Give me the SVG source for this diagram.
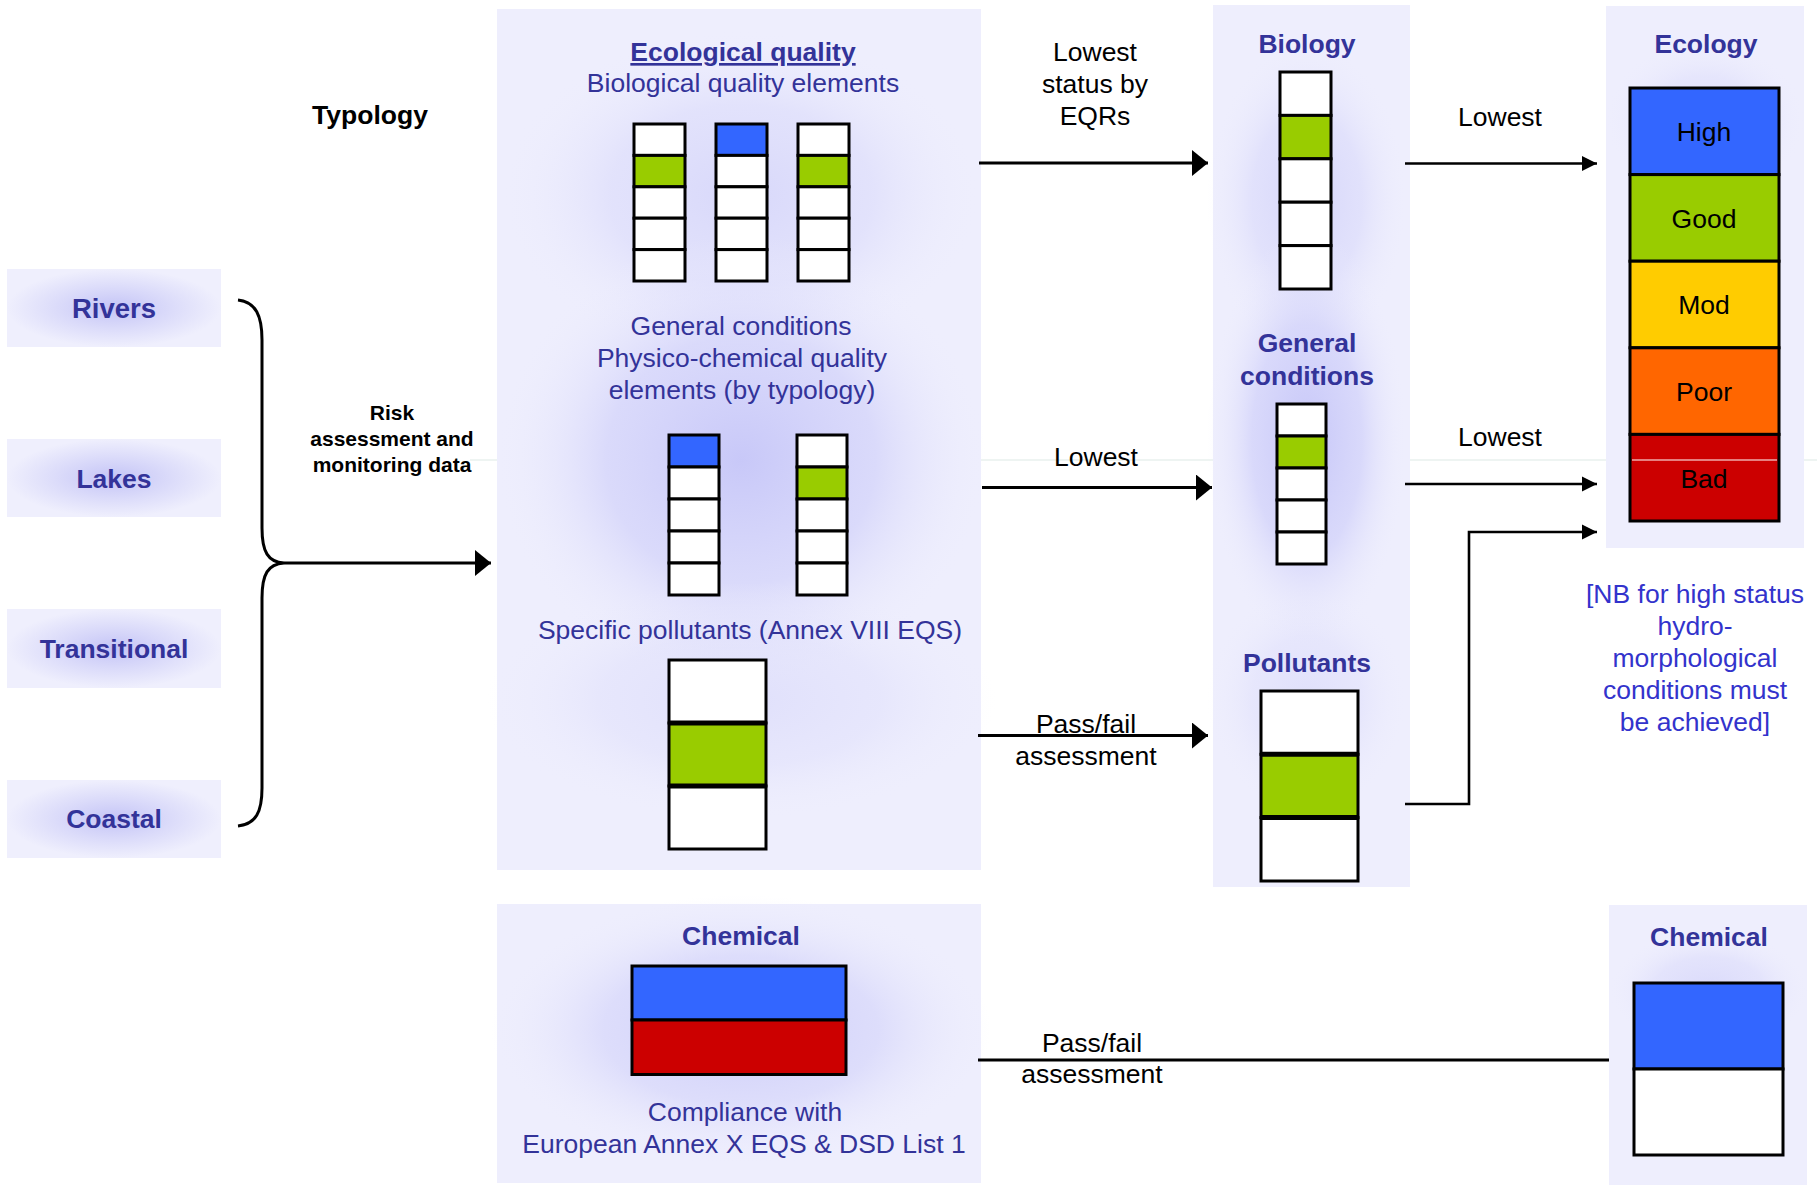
<svg xmlns="http://www.w3.org/2000/svg" width="1817" height="1185" viewBox="0 0 1817 1185">
<defs>
<style>
text{font-family:"Liberation Sans",Arial,sans-serif;font-size:26.5px;text-anchor:middle}
.t{fill:#333399;font-weight:bold}
.s{fill:#333399}
.k{fill:#000}
.kb{fill:#000;font-weight:bold}
.nb{fill:#3333cc}
.risk{fill:#000;font-weight:bold;font-size:21px}
.panel{fill:#eeeefd}
.box{fill:url(#boxg)}
.cell{stroke:#000;stroke-width:3}
.w{fill:#fff}.g{fill:#99cc00}.b{fill:#3366ff}.y{fill:#ffcc00}.o{fill:#ff6600}.r{fill:#cc0000}
.con{fill:none;stroke:#000;stroke-width:3}
.con2{fill:none;stroke:#000;stroke-width:2.6}
</style>
<radialGradient id="boxg" cx="50%" cy="50%" r="50%">
<stop offset="0%" stop-color="#c4c4f6"/>
<stop offset="55%" stop-color="#dcdcfa"/>
<stop offset="100%" stop-color="#efeffd"/>
</radialGradient>
<radialGradient id="glow" cx="50%" cy="50%" r="50%">
<stop offset="0%" stop-color="#c6c6f8" stop-opacity="1"/>
<stop offset="55%" stop-color="#d2d2fa" stop-opacity="0.75"/>
<stop offset="100%" stop-color="#eeeefd" stop-opacity="0"/>
</radialGradient>
<marker id="ahb" markerUnits="userSpaceOnUse" markerWidth="17" markerHeight="26" refX="16" refY="13" orient="auto">
<path d="M0,0 L16,13 L0,26 Z" fill="#000"/>
</marker>
<marker id="ahs" markerUnits="userSpaceOnUse" markerWidth="16" markerHeight="16" refX="15" refY="8" orient="auto">
<path d="M0,0.5 L15,8 L0,15.5 Z" fill="#000"/>
</marker>
</defs>

<rect width="1817" height="1185" fill="#fff"/>
<line x1="470" y1="460" x2="1817" y2="460" stroke="#dde9e5" stroke-width="1.2"/>

<g id="typology-label">
<text class="kb" x="370" y="124">Typology</text>
</g>
<g id="risk-label">
<text class="risk" x="392" y="420">Risk</text>
<text class="risk" x="392" y="446">assessment and</text>
<text class="risk" x="392" y="472">monitoring data</text>
</g>

<g id="rivers">
<rect class="box" x="7" y="269" width="214" height="78"/>
<text class="t" x="114" y="318" style="font-size:27.5px">Rivers</text>
</g>
<g id="lakes">
<rect class="box" x="7" y="439" width="214" height="78"/>
<text class="t" x="114" y="488">Lakes</text>
</g>
<g id="transitional">
<rect class="box" x="7" y="609" width="214" height="79"/>
<text class="t" x="114" y="658">Transitional</text>
</g>
<g id="coastal">
<rect class="box" x="7" y="780" width="214" height="78"/>
<text class="t" x="114" y="828">Coastal</text>
</g>

<g id="ecological-quality">
<rect class="panel" x="497" y="9" width="484" height="861"/>
<ellipse cx="741" cy="195" rx="240" ry="165" fill="url(#glow)" opacity="0.55"/>
<ellipse cx="741" cy="460" rx="245" ry="225" fill="url(#glow)" opacity="0.95"/>
<ellipse cx="741" cy="700" rx="255" ry="120" fill="url(#glow)" opacity="0.35"/>
<text class="t" x="743" y="61" text-decoration="underline">Ecological quality</text>
<text class="s" x="743" y="92">Biological quality elements</text>
<g id="bqe-col1">
<rect class="cell w" x="634" y="124" width="51" height="31.4"/>
<rect class="cell g" x="634" y="155.4" width="51" height="31.4"/>
<rect class="cell w" x="634" y="186.8" width="51" height="31.4"/>
<rect class="cell w" x="634" y="218.2" width="51" height="31.4"/>
<rect class="cell w" x="634" y="249.6" width="51" height="31.4"/>
</g>
<g id="bqe-col2">
<rect class="cell b" x="716" y="124" width="51" height="31.4"/>
<rect class="cell w" x="716" y="155.4" width="51" height="31.4"/>
<rect class="cell w" x="716" y="186.8" width="51" height="31.4"/>
<rect class="cell w" x="716" y="218.2" width="51" height="31.4"/>
<rect class="cell w" x="716" y="249.6" width="51" height="31.4"/>
</g>
<g id="bqe-col3">
<rect class="cell w" x="798" y="124" width="51" height="31.4"/>
<rect class="cell g" x="798" y="155.4" width="51" height="31.4"/>
<rect class="cell w" x="798" y="186.8" width="51" height="31.4"/>
<rect class="cell w" x="798" y="218.2" width="51" height="31.4"/>
<rect class="cell w" x="798" y="249.6" width="51" height="31.4"/>
</g>
<text class="s" x="741" y="335">General conditions</text>
<text class="s" x="742" y="367">Physico-chemical quality</text>
<text class="s" x="742" y="399">elements (by typology)</text>
<g id="pc-col1">
<rect class="cell b" x="669" y="435" width="50" height="32"/>
<rect class="cell w" x="669" y="467" width="50" height="32"/>
<rect class="cell w" x="669" y="499" width="50" height="32"/>
<rect class="cell w" x="669" y="531" width="50" height="32"/>
<rect class="cell w" x="669" y="563" width="50" height="32"/>
</g>
<g id="pc-col2">
<rect class="cell w" x="797" y="435" width="50" height="32"/>
<rect class="cell g" x="797" y="467" width="50" height="32"/>
<rect class="cell w" x="797" y="499" width="50" height="32"/>
<rect class="cell w" x="797" y="531" width="50" height="32"/>
<rect class="cell w" x="797" y="563" width="50" height="32"/>
</g>
<text class="s" x="750" y="639">Specific pollutants (Annex VIII EQS)</text>
<g id="sp-col">
<rect class="cell w" x="669" y="660" width="97" height="63"/>
<rect class="cell g" x="669" y="723" width="97" height="63"/>
<rect class="cell w" x="669" y="786" width="97" height="63"/>
<line x1="669" y1="723" x2="766" y2="723" stroke="#000" stroke-width="5"/>
<line x1="669" y1="786" x2="766" y2="786" stroke="#000" stroke-width="5"/>
</g>
</g>

<g id="chemical-input">
<rect class="panel" x="497" y="904" width="484" height="279"/>
<ellipse cx="741" cy="1030" rx="250" ry="135" fill="url(#glow)" opacity="0.8"/>
<text class="t" x="741" y="945">Chemical</text>
<rect class="cell b" x="632" y="966" width="214" height="54"/>
<rect class="cell r" x="632" y="1020" width="214" height="54.5"/>
<text class="s" x="745" y="1121">Compliance with</text>
<text class="s" x="744" y="1153">European Annex X EQS &amp; DSD List 1</text>
</g>

<g id="biology">
<rect class="panel" x="1213" y="5" width="197" height="882"/>
<ellipse cx="1307" cy="200" rx="100" ry="160" fill="url(#glow)" opacity="0.6"/>
<ellipse cx="1307" cy="440" rx="100" ry="210" fill="url(#glow)"/>
<ellipse cx="1307" cy="700" rx="100" ry="115" fill="url(#glow)" opacity="0.35"/>
<text class="t" x="1307" y="53">Biology</text>
<rect class="cell w" x="1280" y="72" width="51" height="43.4"/>
<rect class="cell g" x="1280" y="115.4" width="51" height="43.4"/>
<rect class="cell w" x="1280" y="158.8" width="51" height="43.4"/>
<rect class="cell w" x="1280" y="202.2" width="51" height="43.4"/>
<rect class="cell w" x="1280" y="245.6" width="51" height="43.4"/>
</g>
<g id="general-conditions">
<text class="t" x="1307" y="352">General</text>
<text class="t" x="1307" y="385">conditions</text>
<rect class="cell w" x="1277" y="404" width="49" height="32"/>
<rect class="cell g" x="1277" y="436" width="49" height="32"/>
<rect class="cell w" x="1277" y="468" width="49" height="32"/>
<rect class="cell w" x="1277" y="500" width="49" height="32"/>
<rect class="cell w" x="1277" y="532" width="49" height="32"/>
</g>
<g id="pollutants">
<text class="t" x="1307" y="672">Pollutants</text>
<rect class="cell w" x="1261" y="691" width="97" height="63.3"/>
<rect class="cell g" x="1261" y="754.3" width="97" height="63.3"/>
<rect class="cell w" x="1261" y="817.6" width="97" height="63.4"/>
<line x1="1261" y1="754.3" x2="1358" y2="754.3" stroke="#000" stroke-width="5"/>
<line x1="1261" y1="817.6" x2="1358" y2="817.6" stroke="#000" stroke-width="5"/>
</g>

<g id="ecology">
<rect class="panel" x="1606" y="6" width="198" height="542"/>
<ellipse cx="1705" cy="120" rx="100" ry="80" fill="url(#glow)" opacity="0.4"/>
<text class="t" x="1706" y="53">Ecology</text>
<rect class="cell b" x="1630" y="88" width="149" height="86.6"/>
<rect class="cell g" x="1630" y="174.6" width="149" height="86.6"/>
<rect class="cell y" x="1630" y="261.2" width="149" height="86.6"/>
<rect class="cell o" x="1630" y="347.8" width="149" height="86.6"/>
<rect class="cell r" x="1630" y="434.4" width="149" height="86.6"/>
<line x1="1632" y1="460" x2="1777" y2="460" stroke="#fff" stroke-width="1.2"/>
<text class="k" x="1704" y="141">High</text>
<text class="k" x="1704" y="228">Good</text>
<text class="k" x="1704" y="314">Mod</text>
<text class="k" x="1704" y="401">Poor</text>
<text class="k" x="1704" y="488">Bad</text>
</g>
<g id="nb-note">
<text class="nb" x="1695" y="603">[NB for high status</text>
<text class="nb" x="1695" y="635">hydro-</text>
<text class="nb" x="1695" y="667">morphological</text>
<text class="nb" x="1695" y="699">conditions must</text>
<text class="nb" x="1695" y="731">be achieved]</text>
</g>

<g id="chemical-status">
<rect class="panel" x="1609" y="905" width="198" height="280"/>
<ellipse cx="1709" cy="990" rx="100" ry="60" fill="url(#glow)" opacity="0.5"/>
<text class="t" x="1709" y="946">Chemical</text>
<rect class="cell b" x="1634" y="983" width="149" height="86"/>
<rect class="cell w" x="1634" y="1069" width="149" height="86"/>
</g>

<g id="connectors">
<path class="con" d="M238,300 C256,302 262,316 262,340 L262,528 C262,552 268,562 284,563 C268,564 262,574 262,598 L262,788 C262,812 256,824 238,826"/>
<line class="con" x1="284" y1="563" x2="491" y2="563" marker-end="url(#ahb)"/>
<line class="con" x1="979" y1="163" x2="1208" y2="163" marker-end="url(#ahb)"/>
<line class="con" x1="982" y1="487.5" x2="1212" y2="487.5" marker-end="url(#ahb)"/>
<line class="con" x1="978" y1="735.5" x2="1208" y2="735.5" marker-end="url(#ahb)"/>
<line class="con2" x1="1405" y1="163.5" x2="1597" y2="163.5" marker-end="url(#ahs)"/>
<line class="con2" x1="1405" y1="484" x2="1597" y2="484" marker-end="url(#ahs)"/>
<path class="con2" d="M1405,804 H1469 V532 H1597" marker-end="url(#ahs)"/>
<line class="con" x1="978" y1="1060" x2="1609" y2="1060"/>
<g id="connector-labels">
<text class="k" x="1095" y="61">Lowest</text>
<text class="k" x="1095" y="93">status by</text>
<text class="k" x="1095" y="125">EQRs</text>
<text class="k" x="1096" y="466">Lowest</text>
<text class="k" x="1086" y="733">Pass/fail</text>
<text class="k" x="1086" y="765">assessment</text>
<text class="k" x="1500" y="126">Lowest</text>
<text class="k" x="1500" y="446">Lowest</text>
<text class="k" x="1092" y="1052">Pass/fail</text>
<text class="k" x="1092" y="1083">assessment</text>
</g>
</g>
</svg>
